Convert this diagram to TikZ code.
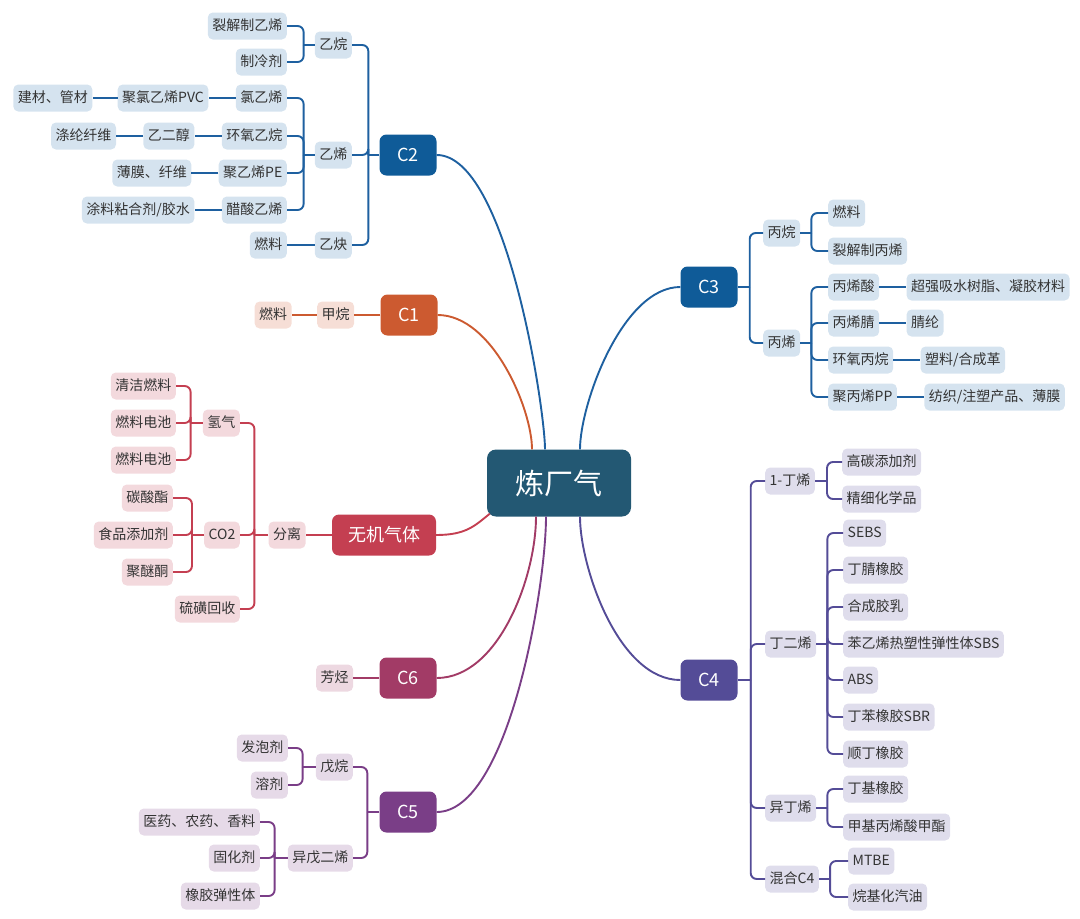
\documentclass[tikz,border=0pt]{standalone}
\usepackage{fontspec}
\setmainfont{Noto Sans CJK SC}
\usetikzlibrary{positioning}

\definecolor{rootc}{HTML}{235873}
\definecolor{txt}{HTML}{333333}
\definecolor{bluem}{HTML}{0F5B98}
\definecolor{bluel}{HTML}{D5E3EF}
\definecolor{bluew}{HTML}{1E60A0}
\definecolor{orangem}{HTML}{CC5A30}
\definecolor{orangel}{HTML}{F6DED6}
\definecolor{redm}{HTML}{C43F51}
\definecolor{redl}{HTML}{F3D9DD}
\definecolor{plumm}{HTML}{A23B66}
\definecolor{pluml}{HTML}{EDD8E1}
\definecolor{violetm}{HTML}{7A3E87}
\definecolor{violetl}{HTML}{E6DAE8}
\definecolor{indigom}{HTML}{544C97}
\definecolor{indigol}{HTML}{DFDDEC}

\tikzstyle{box} = [rounded corners=5pt,inner xsep=4.5pt,inner ysep=0pt,minimum height=27pt,text height=12pt,text depth=2.5pt,text=txt,font=\fontsize{14}{16}\selectfont]
\tikzstyle{main} = [rounded corners=7pt,minimum width=57pt,minimum height=41pt,inner xsep=16pt,text=white,font=\fontsize{18}{20}\selectfont]
\tikzstyle{wire} = [line width=1.9pt]
\tikzstyle{bbox} = [box,fill=bluel]
\tikzstyle{obox} = [box,fill=orangel]
\tikzstyle{rbox} = [box,fill=redl]
\tikzstyle{pbox} = [box,fill=pluml]
\tikzstyle{vbox} = [box,fill=violetl]
\tikzstyle{ibox} = [box,fill=indigol]

% brackets: colour, parent, gap, children
\newcommand{\lfork}[4]{%
  \draw[wire,#1] (#2.west) -- ++(-#3,0);
  \foreach \kid in {#4} \draw[wire,#1,rounded corners=6pt] (\kid.east) -| ([xshift=-#3]#2.west);
}
\newcommand{\rfork}[4]{%
  \draw[wire,#1] (#2.east) -- ++(#3,0);
  \foreach \kid in {#4} \draw[wire,#1,rounded corners=6pt] (\kid.west) -| ([xshift=#3]#2.east);
}

\begin{document}
\begin{tikzpicture}[x=1pt,y=-1pt]
\useasboundingbox (0,0) rectangle (1080,919);

% root
\node[rounded corners=9pt,fill=rootc,text=white,minimum width=144pt,minimum height=67pt,font=\fontsize{29}{32}\selectfont] (root) at (559,483) {炼厂气};

% C2
\node[main,fill=bluem] (c2) at (408,155) {C2};
\node[bbox,anchor=east] (yiwan) at (352,45) {乙烷};
\node[bbox,anchor=east] (yixi) at (352,155) {乙烯};
\node[bbox,anchor=east] (yique) at (352,245) {乙炔};
\node[bbox,anchor=east] (liejie) at (287,26) {裂解制乙烯};
\node[bbox,anchor=east] (zhileng) at (287,62) {制冷剂};
\node[bbox,anchor=east] (lvyixi) at (287,98) {氯乙烯};
\node[bbox,left=27pt of lvyixi] (pvc) {聚氯乙烯PVC};
\node[bbox,left=25pt of pvc] (jiancai) {建材、管材};
\node[bbox,anchor=east] (huanyang) at (287,136) {环氧乙烷};
\node[bbox,left=27pt of huanyang] (erchun) {乙二醇};
\node[bbox,left=27pt of erchun] (dilun) {涤纶纤维};
\node[bbox,anchor=east] (pe) at (287,173) {聚乙烯PE};
\node[bbox,left=27pt of pe] (bomo) {薄膜、纤维};
\node[bbox,anchor=east] (cusuan) at (287,210) {醋酸乙烯};
\node[bbox,left=27pt of cusuan] (tuliao) {涂料粘合剂/胶水};
\node[bbox,anchor=east] (ranliaoA) at (287,245) {燃料};
\lfork{bluew}{c2}{11}{yiwan,yixi,yique}
\lfork{bluew}{yiwan}{11}{liejie,zhileng}
\lfork{bluew}{yixi}{11}{lvyixi,huanyang,pe,cusuan}
\draw[wire,bluew] (lvyixi) -- (pvc);
\draw[wire,bluew] (pvc) -- (jiancai);
\draw[wire,bluew] (huanyang) -- (erchun);
\draw[wire,bluew] (erchun) -- (dilun);
\draw[wire,bluew] (pe) -- (bomo);
\draw[wire,bluew] (cusuan) -- (tuliao);
\draw[wire,bluew] (yique) -- (ranliaoA);

% C3
\node[main,fill=bluem] (c3) at (709,287) {C3};
\node[bbox,anchor=west] (bingwan) at (763,233) {丙烷};
\node[bbox,anchor=west] (bingxi) at (763,343) {丙烯};
\node[bbox,anchor=west] (ranliaoB) at (828,213) {燃料};
\node[bbox,anchor=west] (liejieB) at (828,251) {裂解制丙烯};
\node[bbox,anchor=west] (bxsuan) at (828,287) {丙烯酸};
\node[bbox,right=27pt of bxsuan] (chaoqiang) {超强吸水树脂、凝胶材料};
\node[bbox,anchor=west] (bxjing) at (828,323) {丙烯腈};
\node[bbox,right=27pt of bxjing] (jinglun) {腈纶};
\node[bbox,anchor=west] (hybw) at (828,360) {环氧丙烷};
\node[bbox,right=27pt of hybw] (suliao) {塑料/合成革};
\node[bbox,anchor=west] (pp) at (828,397) {聚丙烯PP};
\node[bbox,right=27pt of pp] (fangzhi) {纺织/注塑产品、薄膜};
\rfork{bluew}{c3}{12}{bingwan,bingxi}
\rfork{bluew}{bingwan}{11}{ranliaoB,liejieB}
\rfork{bluew}{bingxi}{11}{bxsuan,bxjing,hybw,pp}
\draw[wire,bluew] (bxsuan) -- (chaoqiang);
\draw[wire,bluew] (bxjing) -- (jinglun);
\draw[wire,bluew] (hybw) -- (suliao);
\draw[wire,bluew] (pp) -- (fangzhi);

% C1
\node[main,fill=orangem] (c1) at (409,315) {C1};
\node[obox,left=26pt of c1] (jiawan) {甲烷};
\node[obox,left=25pt of jiawan] (ranliaoC) {燃料};
\draw[wire,orangem] (c1) -- (jiawan);
\draw[wire,orangem] (jiawan) -- (ranliaoC);

% inorganic gas
\node[main,fill=redm] (wuji) at (384,535) {无机气体};
\node[rbox,left=26pt of wuji] (fenli) {分离};
\node[rbox,anchor=east] (qingqi) at (240,423) {氢气};
\node[rbox,anchor=east] (co2) at (240,535) {CO2};
\node[rbox,anchor=east] (liuhuang) at (240,609) {硫磺回收};
\node[rbox,anchor=east] (qingjie) at (176,386) {清洁燃料};
\node[rbox,anchor=east] (dianchiA) at (176,423) {燃料电池};
\node[rbox,anchor=east] (dianchiB) at (176,460) {燃料电池};
\node[rbox,anchor=east] (tansuan) at (173,498) {碳酸酯};
\node[rbox,anchor=east] (shipin) at (173,535) {食品添加剂};
\node[rbox,anchor=east] (jumi) at (173,572) {聚醚酮};
\draw[wire,redm] (wuji) -- (fenli);
\lfork{redm}{fenli}{14}{qingqi,co2,liuhuang}
\lfork{redm}{qingqi}{12}{qingjie,dianchiA,dianchiB}
\lfork{redm}{co2}{12}{tansuan,shipin,jumi}

% C6
\node[main,fill=plumm] (c6) at (408,678) {C6};
\node[pbox,left=26pt of c6] (fangting) {芳烃};
\draw[wire,plumm] (c6) -- (fangting);

% C5
\node[main,fill=violetm] (c5) at (408,812) {C5};
\node[vbox,anchor=east] (wuwan) at (353,767) {戊烷};
\node[vbox,anchor=east] (yiwu) at (353,858) {异戊二烯};
\node[vbox,anchor=east] (fapao) at (288,748) {发泡剂};
\node[vbox,anchor=east] (rongji) at (288,785) {溶剂};
\node[vbox,anchor=east] (yiyao) at (260,822) {医药、农药、香料};
\node[vbox,anchor=east] (guhua) at (260,858) {固化剂};
\node[vbox,anchor=east] (xiangjiao) at (260,896) {橡胶弹性体};
\lfork{violetm}{c5}{12}{wuwan,yiwu}
\lfork{violetm}{wuwan}{13}{fapao,rongji}
\lfork{violetm}{yiwu}{13}{yiyao,guhua,xiangjiao}

% C4
\node[main,fill=indigom] (c4) at (709,680) {C4};
\node[ibox,anchor=west] (dingxi) at (765,481) {1-丁烯};
\node[ibox,anchor=west] (dingerxi) at (765,644) {丁二烯};
\node[ibox,anchor=west] (yiding) at (765,808) {异丁烯};
\node[ibox,anchor=west] (hunhe) at (765,879) {混合C4};
\node[ibox,anchor=west] (gaotan) at (842,462) {高碳添加剂};
\node[ibox,anchor=west] (jingxi) at (842,499) {精细化学品};
\node[ibox,anchor=west] (sebs) at (843,533) {SEBS};
\node[ibox,anchor=west] (dingjing) at (843,570) {丁腈橡胶};
\node[ibox,anchor=west] (jiaoru) at (843,607) {合成胶乳};
\node[ibox,anchor=west] (sbs) at (843,644) {苯乙烯热塑性弹性体SBS};
\node[ibox,anchor=west] (abs) at (843,680) {ABS};
\node[ibox,anchor=west] (sbr) at (843,717) {丁苯橡胶SBR};
\node[ibox,anchor=west] (shunding) at (843,754) {顺丁橡胶};
\node[ibox,anchor=west] (dingji) at (843,789) {丁基橡胶};
\node[ibox,anchor=west] (jiaji) at (843,827) {甲基丙烯酸甲酯};
\node[ibox,anchor=west] (mtbe) at (848,861) {MTBE};
\node[ibox,anchor=west] (wanji) at (848,897) {烷基化汽油};
\rfork{indigom}{c4}{13}{dingxi,dingerxi,yiding,hunhe}
\rfork{indigom}{dingxi}{12}{gaotan,jingxi}
\rfork{indigom}{dingerxi}{11}{sebs,dingjing,jiaoru,sbs,abs,sbr,shunding}
\rfork{indigom}{yiding}{11}{dingji,jiaji}
\rfork{indigom}{hunhe}{11}{mtbe,wanji}

% root links
\draw[wire,bluew] (c2.east) .. controls +(70,0) and +(0,-40) .. ([xshift=-14pt]root.north);
\draw[wire,orangem] (c1.east) .. controls +(55,0) and +(0,-40) .. ([xshift=-27pt]root.north);
\draw[wire,bluew] (c3.west) .. controls +(-58,0) and +(0,-45) .. ([xshift=21pt]root.north);
\draw[wire,redm] (wuji.east) .. controls +(30,0) and +(-15,12) .. ([shift={(3pt,3pt)}]root.south west);
\draw[wire,plumm] (c6.east) .. controls +(62,0) and +(0,60) .. ([xshift=-23pt]root.south);
\draw[wire,violetm] (c5.east) .. controls +(72,0) and +(0,70) .. ([xshift=-13pt]root.south);
\draw[wire,indigom] (c4.west) .. controls +(-62,0) and +(0,50) .. ([xshift=21pt]root.south);
\end{tikzpicture}
\end{document}
